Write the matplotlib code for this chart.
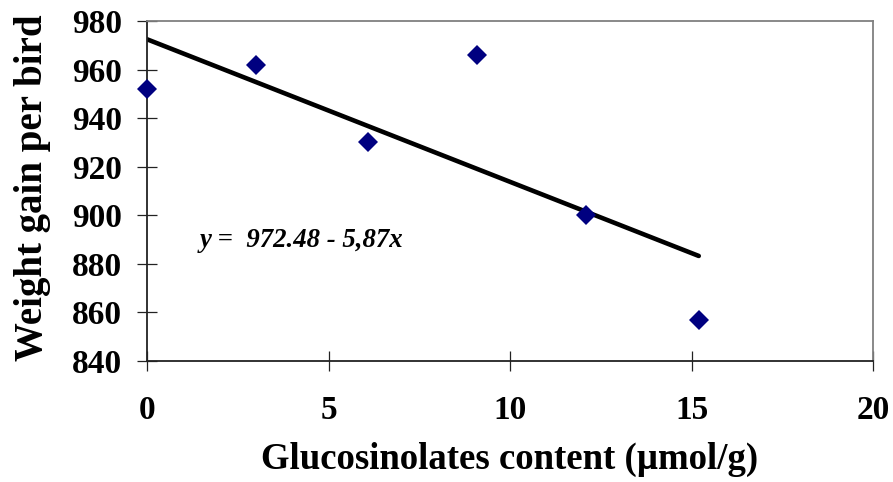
import matplotlib
matplotlib.use("Agg")
import matplotlib.pyplot as plt
import numpy as np

# Glucosinolate content of the diet vs. weight gain per bird
gluc = [0.0, 3.0, 6.1, 9.1, 12.1, 15.2]
weight_gain = [952, 962, 930, 966, 900, 857]

# Fitted regression line
intercept = 972.48
slope = -5.87
fit_x = [0.0, 15.2]

x_ticks = [0, 5, 10, 15, 20]
y_ticks = [840, 860, 880, 900, 920, 940, 960, 980]

plt.rcParams['font.family'] = ['Liberation Serif', 'DejaVu Serif']

fig = plt.figure(figsize=(8.93, 4.82), dpi=100)
ax = fig.add_axes([147 / 893, 1 - 361 / 482, 726 / 893, 340 / 482])

fx = np.array(fit_x)
ax.plot(fx, intercept + slope * fx, color='black', lw=3.3, solid_capstyle='round', zorder=2)
ax.plot(gluc, weight_gain, linestyle='none', marker='D', ms=10.5,
        color='#000080', markeredgewidth=0, zorder=3, clip_on=False)

ax.text(1.45, 889.5, 'y =  972.48 - 5,87x', fontsize=19.3, fontweight='bold',
        fontstyle='italic', va='center', ha='left')

ax.set_xlim(0, 20)
ax.set_ylim(840, 980)
ax.set_xticks(x_ticks)
ax.set_yticks(y_ticks)
ax.tick_params(direction='inout', length=14.4, width=0.9, color='#222222',
               labelsize=24)
for lab in ax.get_xticklabels() + ax.get_yticklabels():
    lab.set_fontweight('bold')
ax.tick_params(axis='x', pad=17.5)
ax.tick_params(axis='y', pad=11)

for side in ('left', 'bottom'):
    ax.spines[side].set_color('#222222')
    ax.spines[side].set_linewidth(1.3)
for side in ('top', 'right'):
    ax.spines[side].set_color('#808080')
    ax.spines[side].set_linewidth(1.3)

ax.set_xlabel('Glucosinolates content (µmol/g)', fontsize=26.5, fontweight='bold')
ax.set_ylabel('Weight gain per bird', fontsize=28, fontweight='bold')
ax.xaxis.set_label_coords(0.5, -0.237)
ax.yaxis.set_label_coords(-0.132, 0.51)

fig.savefig('out.png', dpi=100)
